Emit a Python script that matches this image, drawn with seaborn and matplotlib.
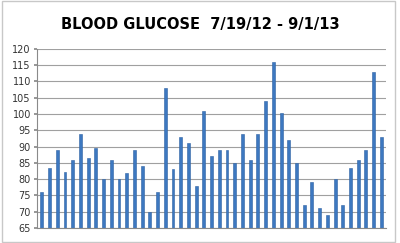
import matplotlib
matplotlib.use("Agg")
import matplotlib.pyplot as plt
import seaborn as sns
import pandas as pd
from matplotlib.patches import Rectangle

readings = [76, 83.3, 89, 82.2, 86, 94, 86.5, 89.5, 80, 86, 80, 82, 89, 84, 70,
            76, 108, 83, 93, 91, 78, 101, 87, 89, 89, 85, 94, 86, 94, 104,
            116, 100.2, 92, 85, 72, 79, 71, 69, 80, 72, 83.5, 86, 89, 113, 93]
idx = list(range(1, len(readings) + 1))
title = "BLOOD GLUCOSE  7/19/12 - 9/1/13"
yticks = list(range(65, 121, 5))

df = pd.DataFrame({"n": idx, "v": readings})

sns.set_theme(style="white")
plt.rcParams['font.family'] = ['DejaVu Sans']

fig = plt.figure(figsize=(4.0, 2.43), dpi=100)
fig.patches.append(Rectangle((0.004, 0.004), 0.984, 0.99, transform=fig.transFigure,
                             fill=False, edgecolor="#c8c8c8", linewidth=1))
ax = fig.add_axes([0.093, 0.062, 0.872, 0.737])
sns.barplot(data=df, x="n", y="v", color="#3d78c0", width=0.38, ax=ax,
            saturation=1, edgecolor="#2f62a3", linewidth=0.4)
ax.set_ylim(65, 120)
ax.set_yticks(yticks)
ax.set_yticklabels([str(t) for t in yticks], fontsize=7, color="#333333")
ax.set_xticks([])
ax.set_xlabel("")
ax.set_ylabel("")
ax.set_xlim(-0.6, len(readings) - 0.4)
ax.yaxis.grid(True, color="#a0a0a0", linewidth=0.8)
ax.set_axisbelow(True)
for s in ["top", "right"]:
    ax.spines[s].set_visible(False)
ax.spines["left"].set_color("#8a8a8a")
ax.spines["bottom"].set_color("#8a8a8a")
ax.spines["left"].set_linewidth(0.8)
ax.spines["bottom"].set_linewidth(0.8)
ax.tick_params(axis="y", length=2.5, pad=2, color="#8a8a8a", left=True)
fig.text(0.5, 0.9, title, ha="center", va="center", fontsize=10.5,
         fontweight="bold", color="#000000")
fig.savefig("out.png", dpi=100)
